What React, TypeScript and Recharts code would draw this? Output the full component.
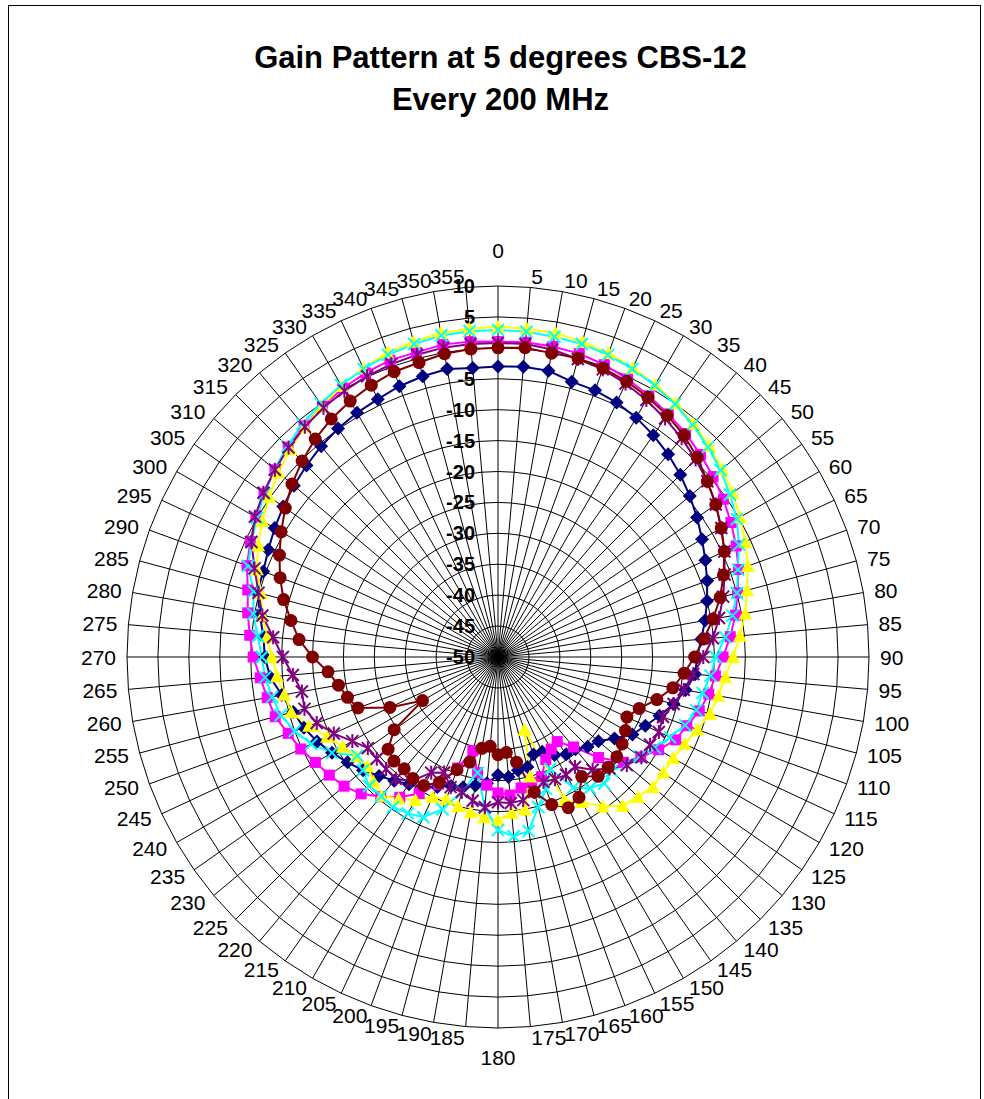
import React from "react";
import { RadarChart, Radar, PolarGrid, PolarAngleAxis, PolarRadiusAxis } from "recharts";

// azimuth in degrees (category axis)
const angles = [
  0, 5, 10, 15, 20, 25, 30, 35, 40, 45, 50, 55, 60, 65, 70, 75, 80, 85, 90, 95, 100, 105, 110, 115,
  120, 125, 130, 135, 140, 145, 150, 155, 160, 165, 170, 175, 180, 185, 190, 195, 200, 205, 210, 215,
  220, 225, 230, 235, 240, 245, 250, 255, 260, 265, 270, 275, 280, 285, 290, 295, 300, 305, 310, 315,
  320, 325, 330, 335, 340, 345, 350, 355,
];

// gain in dB, one list per frequency step
const series1 = [
  -3, -2.9, -3, -3.9, -4.1, -4.6, -5.3, -6.2, -7.2, -8.3, -9.5, -10.7, -11.9, -13, -14, -15, -16, -17,
  -17.8, -18, -19.2, -20.6, -22.2, -23.7, -24.9, -27, -28.8, -29.5, -30.5, -30.8, -31.7, -33.1, -33.2,
  -31.6, -31.4, -30.5, -30.9, -29.5, -28.9, -28.2, -27.8, -26.8, -25.8, -24.9, -23.9, -22.8, -21.5,
  -20.3, -19, -17.7, -16.6, -15.7, -14.5, -13, -12.3, -11.9, -10.9, -9.7, -9.6, -9, -8.3, -7.6, -6.9,
  -6.2, -5.5, -4.9, -4.4, -4, -3.4, -3, -2.7, -3.1,
];
const series2 = [
  1, 1.1, 1, 0.8, 0.3, -0.4, -1.2, -2, -2.8, -3.7, -4.6, -5.5, -6.5, -7.5, -8.6, -9.9, -11, -12.3,
  -13.6, -14.7, -15.4, -16.3, -17.5, -18.3, -20, -21.8, -23.5, -27, -31, -33.3, -32.8, -31.7, -29.4,
  -29, -28.5, -27.6, -28, -29.2, -31, -34.3, -30.9, -27.3, -24.5, -22.3, -20.5, -18.7, -17.5, -16.7,
  -15.9, -14.8, -13.9, -12.7, -12.1, -11.4, -10.4, -9.7, -8.9, -8.1, -6.8, -5.8, -4.8, -3.8, -2.9, -2,
  -1.2, -0.5, 0.2, 0.7, 1.1, 1, 1.3, 1.2,
];
const series3 = [
  3.4, 3.3, 3.2, 2.8, 2.3, 1.6, 0.9, 0.1, -0.8, -1.7, -2.7, -3.7, -4.8, -5.9, -7, -8.3, -9.4, -10.7,
  -12, -13.1, -13.8, -14.5, -15.7, -16.7, -17.3, -17.4, -17.3, -18, -18.6, -20.5, -22.9, -24.5, -37.5,
  -30, -25, -24.7, -23.6, -24, -24.5, -25, -25.5, -25, -23.3, -22, -20.7, -21.5, -22.5, -22, -21,
  -19.5, -17.5, -15.4, -14.9, -14.1, -13.4, -12.5, -11.3, -10.3, -8.5, -7.2, -6, -4.8, -3.6, -2.5,
  -1.4, -0.4, 0.6, 1.5, 2.4, 2.8, 3.2, 3.3,
];
const series4 = [
  2.9, 2.8, 2.6, 2.4, 2, 1.4, 0.7, -0.1, -1, -2, -3, -4.2, -5.4, -7, -8.7, -10, -11.5, -13.1, -14.8,
  -15.5, -16.4, -16.8, -17.8, -19.3, -20.7, -22, -22.9, -24, -23.3, -24.1, -25.6, -30, -27.3, -24.9,
  -21.4, -20.9, -22, -25.6, -31, -27.5, -23.8, -21.4, -20.8, -20.4, -20.6, -20.5, -21.5, -22.2, -19,
  -16.7, -15, -13.6, -12.9, -12.2, -11.8, -11, -9.8, -9.1, -7, -6, -5, -3.9, -2.8, -1.8, -0.8, 0, 0.8,
  1.4, 2, 2.4, 2.8, 2.9,
];
const series5 = [
  0.8, 0.8, 0.5, -0.1, -0.5, -1.2, -2, -2.9, -3.8, -4.8, -5.8, -7, -8.3, -9.6, -11, -12.3, -13.7,
  -15.1, -16.8, -18.3, -19.5, -20.6, -21.6, -21.3, -21.6, -21.7, -22.8, -24.5, -26.2, -28.3, -28,
  -28.2, -28.5, -27.4, -26.5, -26.3, -26.5, -25.6, -26.4, -27.4, -27.6, -29.4, -28.4, -25.5, -24.3,
  -24.4, -24.4, -24.3, -22.8, -20.7, -18.8, -17.6, -17.8, -16.7, -15.2, -13.5, -11.3, -9.9, -8.1, -6,
  -4.6, -3.7, -2.9, -2.1, -1.4, -0.8, -0.3, 0.1, 0.4, 0.6, 0.8, 0.8,
];
const series6 = [
  0, 0.2, -0.1, 0, -0.3, -0.8, -1.5, -2.3, -3.2, -4.4, -5.8, -7, -8.3, -9.6, -11.2, -12.8, -14.7,
  -16.6, -18.2, -19.8, -21.3, -23.4, -25.7, -27, -26.2, -25.5, -24.9, -24.8, -24.8, -26.4, -23.8,
  -23.1, -24.6, -27.4, -32.7, -34.5, -34.2, -35.5, -35, -32.4, -30.6, -27.6, -26, -26, -26.4, -26.2,
  -26.8, -29.5, -35.9, -30.7, -25.9, -24.8, -23.8, -22.4, -20, -17.7, -16, -14.1, -12.5, -11, -9.5,
  -8, -6.5, -5.2, -4, -3, -2.2, -1.5, -0.9, -0.7, -0.2, 0,
];

const radiusTicks = [-50, -45, -40, -35, -30, -25, -20, -15, -10, -5, 0, 5, 10];

const data = angles.map((a, i) => ({
  angle: a,
  s1: series1[i],
  s2: series2[i],
  s3: series3[i],
  s4: series4[i],
  s5: series5[i],
  s6: series6[i],
}));

const FONT = "'Liberation Sans', Arial, sans-serif";

const makeDot = (shape: string, color: string) => (props: any) => {
  const { cx, cy, index } = props;
  if (cx == null || cy == null) return <g key={index} />;
  switch (shape) {
    case "diamond":
      return (
        <polygon
          key={index}
          points={`${cx},${cy - 7} ${cx + 7},${cy} ${cx},${cy + 7} ${cx - 7},${cy}`}
          fill={color}
        />
      );
    case "square":
      return <rect key={index} x={cx - 5.5} y={cy - 5.5} width={11} height={11} fill={color} />;
    case "triangle":
      return (
        <polygon
          key={index}
          points={`${cx},${cy - 7} ${cx + 7},${cy + 6} ${cx - 7},${cy + 6}`}
          fill={color}
        />
      );
    case "x":
      return (
        <g key={index} stroke={color} strokeWidth={2}>
          <line x1={cx - 6} y1={cy - 6} x2={cx + 6} y2={cy + 6} />
          <line x1={cx - 6} y1={cy + 6} x2={cx + 6} y2={cy - 6} />
        </g>
      );
    case "star":
      return (
        <g key={index} stroke={color} strokeWidth={2}>
          <line x1={cx - 6} y1={cy - 6} x2={cx + 6} y2={cy + 6} />
          <line x1={cx - 6} y1={cy + 6} x2={cx + 6} y2={cy - 6} />
          <line x1={cx} y1={cy - 7} x2={cx} y2={cy + 7} />
        </g>
      );
    default:
      return <circle key={index} cx={cx} cy={cy} r={6.5} fill={color} />;
  }
};

const AngleTick = (props: any) => {
  const { x, y, payload, textAnchor } = props;
  let dy = 0;
  if (payload.value === 0) dy = -25;
  if (payload.value === 180) dy = 18;
  return (
    <text
      x={x}
      y={y + dy}
      textAnchor={textAnchor}
      dominantBaseline="central"
      fontSize={21}
      fontFamily={FONT}
      fill="#000"
    >
      {payload.value}
    </text>
  );
};

const RadiusTick = (props: any) => {
  const { x, y, payload } = props;
  return (
    <text
      x={x - 23}
      y={y}
      textAnchor="end"
      dominantBaseline="central"
      fontSize={20}
      fontWeight="bold"
      fontFamily={FONT}
      fill="#000"
    >
      {payload.value}
    </text>
  );
};

const seriesList = [
  { key: "s1", color: "#000080", shape: "diamond" },
  { key: "s2", color: "#FF00FF", shape: "square" },
  { key: "s3", color: "#FFFF00", shape: "triangle" },
  { key: "s4", color: "#00FFFF", shape: "x" },
  { key: "s5", color: "#800080", shape: "star" },
  { key: "s6", color: "#800000", shape: "circle" },
];

export default function App() {
  return (
    <>
      <style>{`html, body { overflow: hidden; }`}</style>
      <div
        style={{
          position: "absolute",
          left: 8,
          top: 5,
          width: 973,
          height: 1110,
          border: "1px solid #000",
          boxSizing: "border-box",
          background: "#fff",
          fontFamily: FONT,
        }}
      >
        <div
          style={{
            position: "absolute",
            top: 31,
            left: 6,
            width: 971,
            textAlign: "center",
            fontWeight: "bold",
            fontSize: 31,
            lineHeight: "42px",
          }}
        >
          Gain Pattern at 5 degrees CBS-12
          <br />
          Every 200 MHz
        </div>
        <div style={{ position: "absolute", top: 0, left: 0 }}>
          <RadarChart
            width={971}
            height={1100}
            data={data}
            cx={489}
            cy={651}
            outerRadius={371}
            margin={{ top: 0, right: 0, bottom: 0, left: 0 }}
          >
            <PolarGrid stroke="#000" strokeWidth={1} gridType="polygon" />
            <PolarAngleAxis
              dataKey="angle"
              tick={<AngleTick />}
              tickSize={11}
              tickLine={false}
              axisLine={false}
            />
            <PolarRadiusAxis
              angle={90}
              type="number"
              domain={[-50, 10]}
              ticks={radiusTicks}
              tickCount={13}
              axisLine={false}
              tickLine={false}
              tick={<RadiusTick />}
            />
            {seriesList.map((s) => (
              <Radar
                key={s.key}
                dataKey={s.key}
                stroke={s.color}
                strokeWidth={2}
                fill="none"
                fillOpacity={0}
                dot={makeDot(s.shape, s.color)}
                isAnimationActive={false}
              />
            ))}
          </RadarChart>
        </div>
      </div>
    </>
  );
}
